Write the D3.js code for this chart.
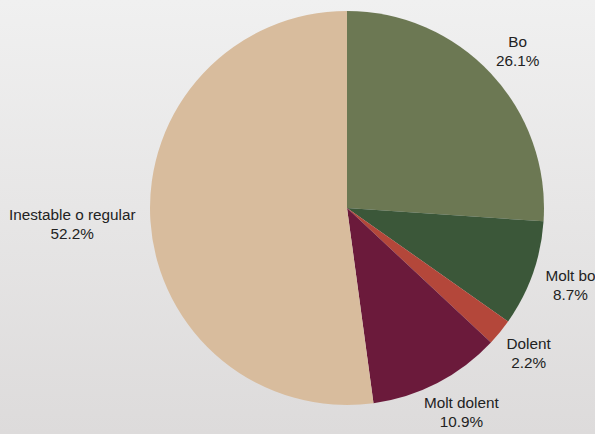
<!DOCTYPE html>
<html>
<head>
<meta charset="utf-8">
<script src="https://cdn.jsdelivr.net/npm/d3@7"></script>
<style>
  html, body { margin: 0; padding: 0; }
  svg { display: block; }
</style>
</head>
<body>
<svg id="chart" width="595" height="434"></svg>
<script>
// Health self-assessment shares
const categories = ["Bo", "Molt bo", "Dolent", "Molt dolent", "Inestable o regular"];
const values = [26.1, 8.7, 2.2, 10.9, 52.2];
const labels = ["26.1%", "8.7%", "2.2%", "10.9%", "52.2%"];
const colors = ["#6c7853", "#3b5739", "#b4473a", "#6b1a3b", "#d8bc9d"];

const width = 595, height = 434;
const cx = 347, cy = 208, radius = 197;
const labelGap = 15, lineHeight = 19, fontSize = 15.3;

const svg = d3.select("#chart");

const defs = svg.append("defs");
const grad = defs.append("linearGradient")
  .attr("id", "bg").attr("x1", 0).attr("y1", 0).attr("x2", 0).attr("y2", 1);
grad.append("stop").attr("offset", "0%").attr("stop-color", "#f0f0f0");
grad.append("stop").attr("offset", "100%").attr("stop-color", "#dddbdb");
svg.append("rect").attr("width", width).attr("height", height).attr("fill", "url(#bg)");

const data = categories.map((c, i) => ({ category: c, value: values[i], label: labels[i], color: colors[i] }));

const pie = d3.pie().sort(null).value(d => d.value);
const arc = d3.arc().innerRadius(0).outerRadius(radius);
const arcs = pie(data);

const g = svg.append("g").attr("transform", `translate(${cx},${cy})`);

g.selectAll("path.slice")
  .data(arcs)
  .join("path")
  .attr("class", "slice")
  .attr("d", arc)
  .attr("fill", d => d.data.color);

// Labels sit outside the rim; each text block is pushed outward by half its size
const lbl = g.selectAll("text.lbl")
  .data(arcs)
  .join("text")
  .attr("class", "lbl")
  .attr("font-family", "Liberation Sans, Arial, sans-serif")
  .attr("font-size", fontSize)
  .attr("fill", "#222")
  .attr("text-anchor", "middle");

lbl.append("tspan").attr("x", 0).attr("dy", 0).text(d => d.data.category);
lbl.append("tspan").attr("x", 0).attr("dy", lineHeight).text(d => d.data.label);

lbl.each(function(d) {
  const t = d3.select(this);
  const bb = this.getBBox();
  const a = (d.startAngle + d.endAngle) / 2;
  const s = Math.sin(a), c = Math.cos(a);
  const r = radius + labelGap;
  const ax = r * s, ay = -r * c;
  const w = bb.width / 2, h = bb.height / 2;
  const centerX = ax + s * w;
  const centerY = ay - c * h;
  // shift so the bbox center lands on (centerX, centerY)
  const bx = bb.x + bb.width / 2, by = bb.y + bb.height / 2;
  t.attr("transform", `translate(${centerX - bx},${centerY - by})`);
});
</script>
</body>
</html>
